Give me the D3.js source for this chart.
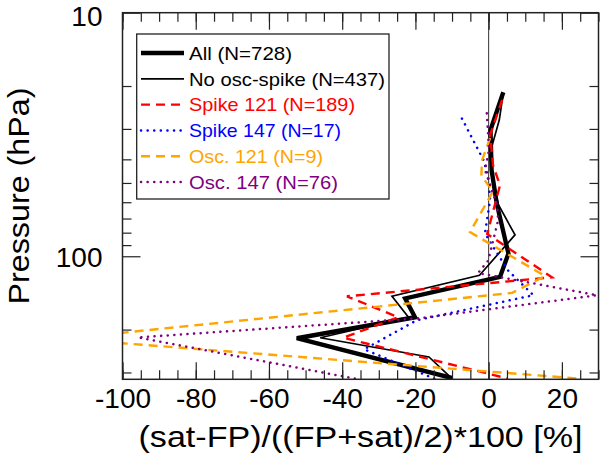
<!DOCTYPE html>
<html><head><meta charset="utf-8">
<script src="https://cdn.jsdelivr.net/npm/d3@7"></script>
<style>body{margin:0;background:#fff}svg{display:block}</style>
</head><body><svg id="c" width="600" height="456"></svg>
<script>
// ---- data ----
const seriesLabels = ["All (N=728)","No osc-spike (N=437)","Spike 121 (N=189)","Spike 147 (N=17)","Osc. 121 (N=9)","Osc. 147 (N=76)"];
const allDiff   = [4.0,0.5,0.8,2.2,5.4,3.1,-22.8,-20.1,-52.4,-10.1];
const allPres   = [21.2,30.3,44.3,60.7,97.5,121.6,149,178,217,316];
const noOscDiff = [4.0,2.9,0.7,1.0,2.7,7.2,-2.5,-26.4,-21.9,-46.0,-16.3,-10.0];
const noOscPres = [21.4,27.6,36.2,48.6,61.6,81.7,119.7,146,178,216,259,318];
const spk121Diff = [3.7,0.4,1.2,3.1,-0.4,17.3,-38.7,-24.7,-39.7,5.0];
const spk121Pres = [22.8,31.8,42.3,51.1,81,122,146,178,216,317];
const spk147Diff = [-7.3,-1.4,-0.1,0.4,-1.0,0.4,5.3,12.2,-19.6,-34,-14.2];
const spk147Pres = [27.2,40.3,47.4,58.6,80.3,87.4,114.4,144.5,183,241,321];
const osc121Diff = [0.4,-1.8,-2.0,1.2,-5.1,15.4,6.4,-116,25];
const osc121Pres = [32.7,40.3,46.8,54.1,79.6,120.5,141.4,218,318];
const osc147Diff = [-0.5,0.1,-1.0,2.3,2.6,-0.1,-2.9,29.6,-18.7,-95.8,-36.5];
const osc147Pres = [25.9,36.6,44.3,61.6,71,104,117.2,144.6,179.6,215.4,318];
const xTickLabels = [-100,-80,-60,-40,-20,0,20];
const xMinorTicks = d3.range(-100, 31, 5);
const yTickLabels = [10,100];
const yMinorTicks = [20,30,40,50,60,70,80,90,200,300];

// ---- styles ----
const styles = [
  {color:"#000000", width:4.4, dash:null},
  {color:"#000000", width:1.7, dash:null},
  {color:"#ff0000", width:2.4, dash:"9,6"},
  {color:"#0000ff", width:2.5, dash:"0.1,6.5"},
  {color:"#ffa500", width:2.4, dash:"9,6"},
  {color:"#800080", width:2.5, dash:"0.1,6.5"}
];
const seriesDiff = [allDiff,noOscDiff,spk121Diff,spk147Diff,osc121Diff,osc147Diff];
const seriesPres = [allPres,noOscPres,spk121Pres,spk147Pres,osc121Pres,osc147Pres];

const L=122.5, R=598.5, T=12.7, B=379.3;
const svg = d3.select("#c");
const x = d3.scaleLinear().domain([-100,30]).range([L,R]);
const y = d3.scaleLog().domain([10,320]).range([T,B]);
const font = "'Liberation Sans', Arial, Helvetica, sans-serif";

svg.append("defs").append("clipPath").attr("id","clip")
  .append("rect").attr("x",L).attr("y",T).attr("width",R-L).attr("height",B-T);

// zero line
svg.append("line").attr("x1",x(0)).attr("x2",x(0)).attr("y1",T).attr("y2",B)
  .attr("stroke","#333").attr("stroke-width",1);

// series
const plot = svg.append("g").attr("clip-path","url(#clip)");
const line = d3.line().x(d=>x(d[0])).y(d=>y(d[1]));
seriesDiff.forEach((xs,i)=>{
  const pts = xs.map((v,j)=>[v, seriesPres[i][j]]);
  const st = styles[i];
  plot.append("path").datum(pts).attr("d",line)
    .attr("fill","none").attr("stroke",st.color).attr("stroke-width",st.width)
    .attr("stroke-linejoin","miter").attr("stroke-dasharray",st.dash)
    .attr("stroke-linecap", st.dash && st.dash.startsWith("0.1") ? "round" : "butt");
});

// axes
function styleAxis(g){ g.select(".domain").remove(); g.selectAll("line").attr("stroke","#222").attr("stroke-width",1.2); g.selectAll("text").attr("font-family",font).attr("font-size",28).attr("fill","#000"); }
const gx = svg.append("g").attr("transform",`translate(0,${B})`);
gx.call(d3.axisBottom(x).tickValues(xMinorTicks).tickSize(-9).tickFormat("")).call(styleAxis);
const gx2 = svg.append("g").attr("transform",`translate(0,${B})`);
gx2.call(d3.axisBottom(x).tickValues(xTickLabels).tickSize(-17).tickPadding(9).tickFormat(d3.format("d"))).call(styleAxis);
gx2.selectAll("text").text(d=>d<0 ? "-"+Math.abs(d) : d);
const gxt = svg.append("g").attr("transform",`translate(0,${T})`);
gxt.call(d3.axisTop(x).tickValues(xMinorTicks).tickSize(-9).tickFormat("")).call(styleAxis);
const gxt2 = svg.append("g").attr("transform",`translate(0,${T})`);
gxt2.call(d3.axisTop(x).tickValues(xTickLabels).tickSize(-17).tickFormat("")).call(styleAxis);

const gy = svg.append("g").attr("transform",`translate(${L},0)`);
gy.call(d3.axisLeft(y).tickValues(yMinorTicks).tickSize(-9).tickFormat("")).call(styleAxis);
const gy2 = svg.append("g").attr("transform",`translate(${L},0)`);
gy2.call(d3.axisLeft(y).tickValues(yTickLabels).tickSize(-18).tickPadding(20).tickFormat(d3.format("d"))).call(styleAxis);
gy2.selectAll("text").attr("dy", d => d===10 ? "0.44em" : "0.37em");
const gyr = svg.append("g").attr("transform",`translate(${R},0)`);
gyr.call(d3.axisRight(y).tickValues(yMinorTicks).tickSize(-9).tickFormat("")).call(styleAxis);
const gyr2 = svg.append("g").attr("transform",`translate(${R},0)`);
gyr2.call(d3.axisRight(y).tickValues(yTickLabels).tickSize(-18).tickFormat("")).call(styleAxis);

// frame
svg.append("rect").attr("x",L).attr("y",T).attr("width",R-L).attr("height",B-T)
  .attr("fill","none").attr("stroke","#222").attr("stroke-width",1.5);

// titles
svg.append("text").attr("x",(L+R)/2).attr("y",447).attr("text-anchor","middle")
  .attr("font-family",font).attr("font-size",29).attr("textLength",444).attr("lengthAdjust","spacingAndGlyphs")
  .text("(sat-FP)/((FP+sat)/2)*100 [%]");
svg.append("text").attr("transform",`translate(29,${(T+B)/2}) rotate(-90)`).attr("text-anchor","middle")
  .attr("font-family",font).attr("font-size",29).attr("textLength",217).attr("lengthAdjust","spacingAndGlyphs")
  .text("Pressure (hPa)");

// legend
const lg = svg.append("g");
lg.append("rect").attr("x",136.7).attr("y",34).attr("width",252.3).attr("height",165)
  .attr("fill","#fff").attr("stroke","#222").attr("stroke-width",1.3);
const legendW = [103,196,166,152,134,149];
seriesLabels.forEach((lab,i)=>{
  const yy = 53 + i*25.8;
  const st = styles[i];
  lg.append("line").attr("x1",141).attr("x2",184).attr("y1",yy).attr("y2",yy)
    .attr("stroke",st.color).attr("stroke-width",st.width).attr("stroke-dasharray",st.dash)
    .attr("stroke-linecap", st.dash && st.dash.startsWith("0.1") ? "round" : "butt");
  lg.append("text").attr("x",189).attr("y",yy+6.8).attr("font-family",font).attr("font-size",19)
    .attr("fill", i<2 ? "#000" : st.color).attr("textLength",legendW[i]).attr("lengthAdjust","spacingAndGlyphs")
    .text(lab);
});
</script></body></html>
